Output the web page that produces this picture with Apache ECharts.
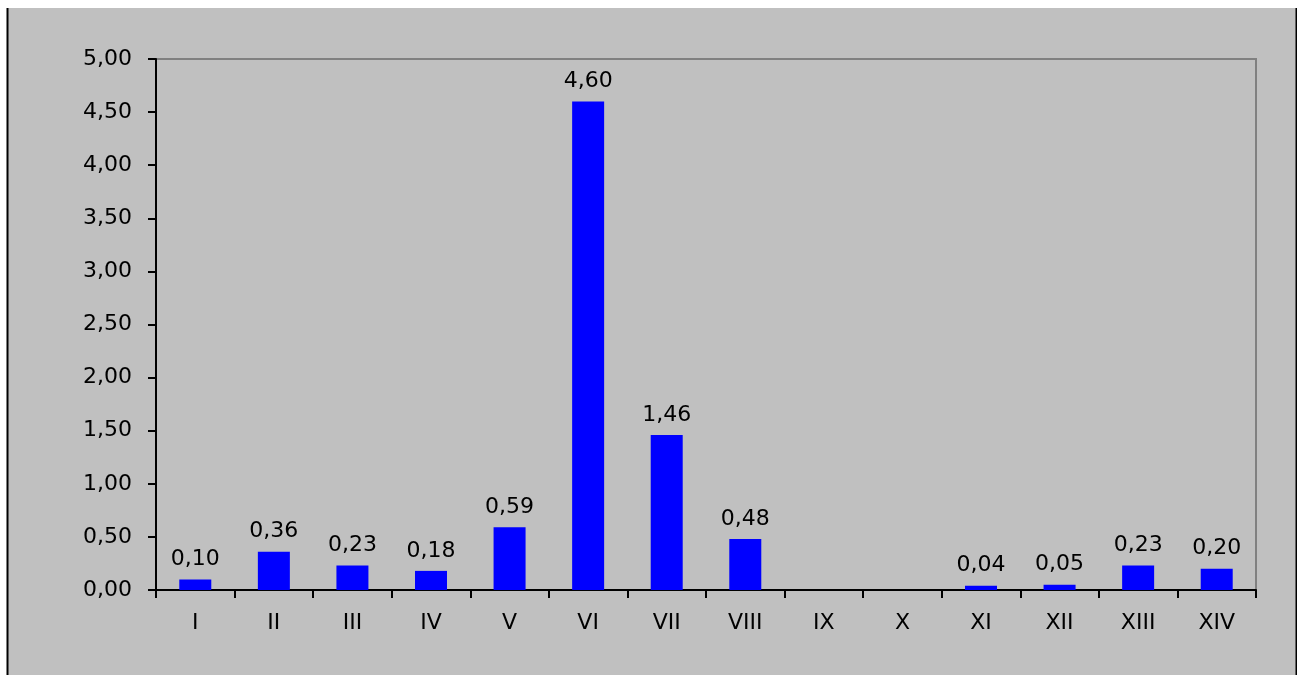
<!DOCTYPE html>
<html>
<head>
<meta charset="utf-8">
<script src="https://cdn.jsdelivr.net/npm/echarts@6/dist/echarts.min.js"></script>
<style>
html,body{margin:0;padding:0;background:#fff;}
#chart{width:1297px;height:675px;}
</style>
</head>
<body>
<div id="chart"></div>
<script>
const categories = ['I','II','III','IV','V','VI','VII','VIII','IX','X','XI','XII','XIII','XIV'];
const values = [0.10, 0.36, 0.23, 0.18, 0.59, 4.60, 1.46, 0.48, 0, 0, 0.04, 0.05, 0.23, 0.20];
const yMin = 0, yMax = 5, yStep = 0.5;

const FONT = 'DejaVu Sans, Liberation Sans, Arial, sans-serif';
const fmt = v => Number(v).toFixed(2).replace('.', ',');
const chart = echarts.init(document.getElementById('chart'), null, {renderer:'canvas'});
chart.setOption({
  animation:false,
  backgroundColor:'#ffffff',
  graphic:[
    {type:'rect', z:-10, shape:{x:7, y:8, width:1290, height:667}, style:{fill:'#c0c0c0'}},
    {type:'line', z:-9, shape:{x1:7.5, y1:8, x2:7.5, y2:675}, style:{stroke:'#000', lineWidth:2}},
    {type:'line', z:-9, shape:{x1:1296.5, y1:8, x2:1296.5, y2:675}, style:{stroke:'#000', lineWidth:2}}
  ],
  grid:{left:156, top:59, right:41, bottom:85, show:true, borderColor:'#808080', borderWidth:2, backgroundColor:'transparent'},
  xAxis:{
    type:'category', data:categories,
    axisLine:{lineStyle:{color:'#000', width:2}},
    axisTick:{show:true, length:8, lineStyle:{color:'#000', width:2}, alignWithLabel:false},
    axisLabel:{color:'#000', fontSize:22, fontFamily:FONT, margin:22}
  },
  yAxis:{
    type:'value', min:yMin, max:yMax, interval:yStep,
    axisLine:{show:true, lineStyle:{color:'#000', width:2}},
    axisTick:{show:true, length:8, lineStyle:{color:'#000', width:2}},
    splitLine:{show:false},
    axisLabel:{color:'#000', fontSize:22, fontFamily:FONT, margin:24, padding:[6,0,0,0], formatter:fmt}
  },
  series:[{
    type:'bar', data:values, barWidth:32,
    itemStyle:{color:'#0000ff'},
    label:{show:true, position:'top', distance:9, color:'#000', fontSize:22,
      fontFamily:FONT,
      formatter:p => p.value === 0 ? '' : fmt(p.value)}
  }]
});
</script>
</body>
</html>
